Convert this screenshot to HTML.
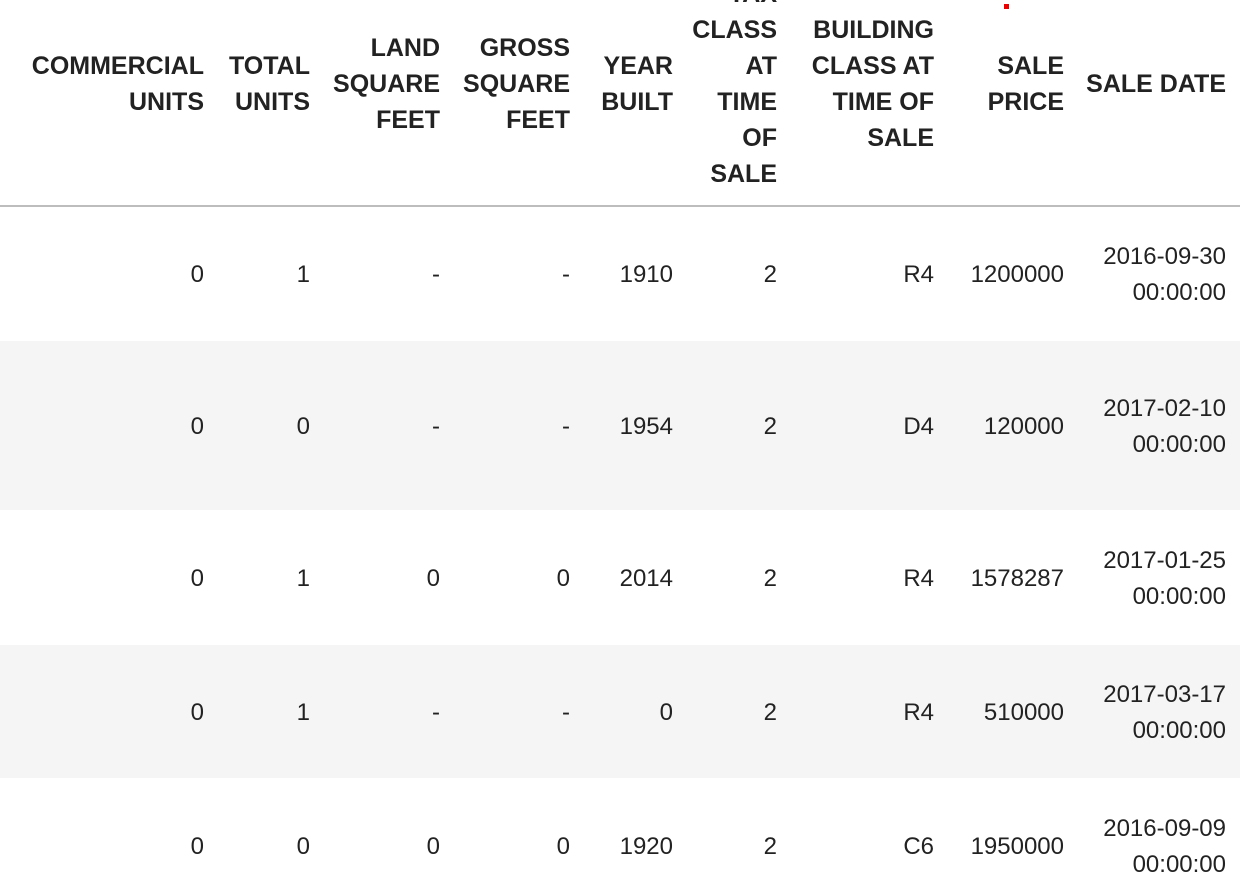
<!DOCTYPE html>
<html><head><meta charset="utf-8"><style>
body{margin:0;width:1250px;height:884px;overflow:hidden;background:#fff;font-family:"Liberation Sans","DejaVu Sans",sans-serif;color:#222;position:relative}
.h{position:absolute;font-weight:bold;font-size:25px;line-height:36px;text-align:right;white-space:nowrap}
.c{position:absolute;font-size:24px;line-height:36px;text-align:right;white-space:nowrap}
.bg{position:absolute;left:0;width:1240px;background:#f5f5f5}
</style></head><body>
<div style="position:absolute;left:0;top:205px;width:1240px;height:2px;background:#bdbdbd"></div>
<div class="bg" style="top:341px;height:169px"></div>
<div class="bg" style="top:645px;height:133px"></div>
<div style="position:absolute;left:1004px;top:4px;width:5px;height:5px;background:#e00"></div>
<div id="hdr"></div>
<div id="body"></div>
<script>
const headers=[["COMMERCIAL","UNITS"],["TOTAL","UNITS"],["LAND","SQUARE","FEET"],["GROSS","SQUARE","FEET"],["YEAR","BUILT"],["TAX","CLASS","AT","TIME","OF","SALE"],["BUILDING","CLASS AT","TIME OF","SALE"],["SALE","PRICE"],["SALE DATE"]];
const rights=[204,310,440,570,673,777,934,1064,1226];
const rows=[["0","1","-","-","1910","2","R4","1200000",["2016-09-30","00:00:00"]],
["0","0","-","-","1954","2","D4","120000",["2017-02-10","00:00:00"]],
["0","1","0","0","2014","2","R4","1578287",["2017-01-25","00:00:00"]],
["0","1","-","-","0","2","R4","510000",["2017-03-17","00:00:00"]],
["0","0","0","0","1920","2","C6","1950000",["2016-09-09","00:00:00"]]];
const rowCenters=[275,427,579,713,847];
const hc=84;
headers.forEach((h,i)=>{
 const d=document.createElement('div');d.className='h';
 
 
 d.innerHTML=h.join('<br>');
 const top=hc-h.length*18;
 d.style.top=top+'px';d.style.right=(1250-rights[i])+'px';
 document.getElementById('hdr').appendChild(d);
});
rows.forEach((r,ri)=>{
 r.forEach((v,ci)=>{
  const d=document.createElement('div');d.className='c';
  
  
  const lines=Array.isArray(v)?v:[v];
  d.innerHTML=lines.join('<br>');
  d.style.top=(rowCenters[ri]-lines.length*18)+'px';
  d.style.right=(1250-rights[ci])+'px';
  document.getElementById('body').appendChild(d);
 });
});
</script>
</body></html>
